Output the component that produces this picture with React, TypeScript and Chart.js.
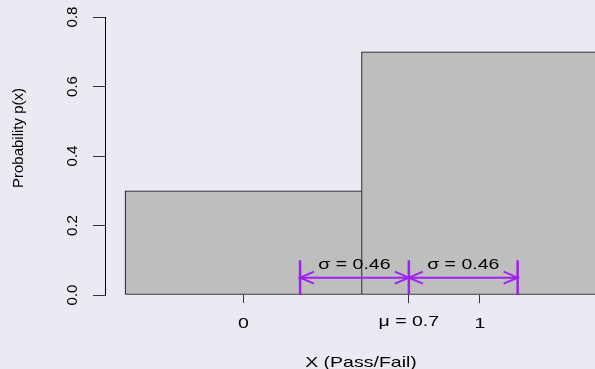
import React, { useEffect, useRef } from "react";
import { Chart, registerables } from "chart.js";

Chart.register(...registerables);

// ---- data ----
const outcomes = [0, 1];
const probabilities = [0.3, 0.7];
const muValue = 0.7;
const sigmaValue = 0.46;
const sigmaMarks = [0.24, 0.7, 1.16]; // mu - sigma, mu, mu + sigma
const markerTop = [0.1, 0.1, 0.1];
const arrowLevel = 0.05;
const labelLevel = 0.088;
const yTickValues = [0, 0.2, 0.4, 0.6, 0.8];
const yTickLabels = ["0.0", "0.2", "0.4", "0.6", "0.8"];
const xTickValues = [0, 0.7, 1];
const xTickLabels = ["0", "\u03bc = 0.7", "1"];
const sigmaLabels = ["\u03c3 = 0.46", "\u03c3 = 0.46"];
const xTitle = "X (Pass/Fail)";
const yTitle = "Probability p(x)";

const X_MIN = -0.5848;
const X_MAX = 1.4871;
const PURPLE = "#A020F0";
const BG = "#EAEAF2";
const FONT = '"Liberation Sans", Arial, Helvetica, sans-serif';

function hText(ctx: CanvasRenderingContext2D, text: string, x: number, y: number, sx: number, size: number) {
  ctx.save();
  ctx.translate(x, y);
  ctx.scale(sx, 1);
  ctx.font = `${size}px ${FONT}`;
  ctx.textAlign = "center";
  ctx.textBaseline = "alphabetic";
  ctx.fillStyle = "#000";
  ctx.fillText(text, 0, 0);
  ctx.restore();
}

function vText(ctx: CanvasRenderingContext2D, text: string, x: number, y: number, size: number) {
  ctx.save();
  ctx.translate(x, y);
  ctx.rotate(-Math.PI / 2);
  ctx.font = `${size}px ${FONT}`;
  ctx.textAlign = "center";
  ctx.textBaseline = "alphabetic";
  ctx.fillStyle = "#000";
  ctx.fillText(text, 0, 0);
  ctx.restore();
}

const bgPlugin = {
  id: "bg",
  beforeDraw(chart: any) {
    const ctx = chart.ctx;
    ctx.save();
    ctx.fillStyle = BG;
    ctx.fillRect(0, 0, chart.width, chart.height);
    ctx.restore();
  },
};

const annotPlugin = {
  id: "annot",
  afterDatasetsDraw(chart: any) {
    const ctx = chart.ctx;
    const xs = chart.scales.x;
    const ys = chart.scales.y;
    const yA = ys.getPixelForValue(arrowLevel);
    const headLen = 14;
    const headHalf = 6;
    ctx.save();
    ctx.strokeStyle = PURPLE;
    ctx.lineWidth = 2;
    for (let i = 0; i < sigmaMarks.length - 1; i++) {
      const a = xs.getPixelForValue(sigmaMarks[i]);
      const b = xs.getPixelForValue(sigmaMarks[i + 1]);
      ctx.beginPath();
      ctx.moveTo(a + headLen, yA - headHalf);
      ctx.lineTo(a, yA);
      ctx.lineTo(a + headLen, yA + headHalf);
      ctx.moveTo(b - headLen, yA - headHalf);
      ctx.lineTo(b, yA);
      ctx.lineTo(b - headLen, yA + headHalf);
      ctx.stroke();
    }
    ctx.restore();
  },
  afterDraw(chart: any) {
    const ctx = chart.ctx;
    const xs = chart.scales.x;
    const ys = chart.scales.y;
    const area = chart.chartArea;
    // y tick labels (rotated)
    yTickValues.forEach((v, i) => {
      vText(ctx, yTickLabels[i], area.left - 28, ys.getPixelForValue(v), 15);
    });
    // x tick labels
    xTickValues.forEach((v, i) => {
      const off = i === 1 ? 31 : 33;
      hText(ctx, xTickLabels[i], xs.getPixelForValue(v), area.bottom + off, 1.3, 15);
    });
    // sigma labels
    for (let i = 0; i < sigmaLabels.length; i++) {
      const cx = (sigmaMarks[i] + sigmaMarks[i + 1]) / 2;
      hText(ctx, sigmaLabels[i], xs.getPixelForValue(cx), ys.getPixelForValue(labelLevel) + 5, 1.3, 15);
    }
    // axis titles
    hText(ctx, xTitle, area.left + 256, area.bottom + 72, 1.3, 15);
    vText(ctx, yTitle, 22.5, 138, 15);
  },
};

export default function App() {
  const ref = useRef<HTMLCanvasElement | null>(null);
  useEffect(() => {
    document.body.style.margin = "0";
    document.body.style.background = BG;
    if (!ref.current) return;
    const lineSets: any[] = [];
    sigmaMarks.forEach((m, i) => {
      lineSets.push({
        type: "line",
        data: [
          { x: m, y: 0 },
          { x: m, y: markerTop[i] },
        ],
        borderColor: PURPLE,
        borderWidth: 2.5,
        pointRadius: 0,
        fill: false,
        order: 0,
        xAxisID: "x",
      });
    });
    for (let i = 0; i < sigmaMarks.length - 1; i++) {
      lineSets.push({
        type: "line",
        data: [
          { x: sigmaMarks[i], y: arrowLevel },
          { x: sigmaMarks[i + 1], y: arrowLevel },
        ],
        borderColor: PURPLE,
        borderWidth: 2,
        pointRadius: 0,
        fill: false,
        order: 0,
        xAxisID: "x",
      });
    }
    const chart = new Chart(ref.current, {
      type: "bar",
      data: {
        datasets: [
          ...lineSets,
          {
            type: "bar",
            data: outcomes.map((o, i) => ({ x: o, y: probabilities[i] })),
            backgroundColor: "#BEBEBE",
            borderColor: "#000",
            borderWidth: (c: any) =>
              c.dataIndex === 0 ? { top: 1, left: 1, bottom: 1, right: 0 } : 1,
            borderSkipped: false,
            barPercentage: 1,
            categoryPercentage: 1,
            grouped: false,
            order: 10,
            xAxisID: "xb",
          },
        ],
      },
      options: {
        animation: false,
        responsive: false,
        devicePixelRatio: 1,
        layout: { padding: { top: 17, left: 0, right: 0, bottom: 0 } },
        plugins: { legend: { display: false }, tooltip: { enabled: false } },
        scales: {
          x: {
            type: "linear",
            min: X_MIN,
            max: X_MAX,
            offset: false,
            afterBuildTicks: (s: any) => {
              s.ticks = xTickValues.map((v) => ({ value: v }));
            },
            afterFit: (s: any) => {
              s.height = 74;
            },
            ticks: { display: false },
            border: { display: false },
            grid: {
              display: true,
              offset: false,
              drawOnChartArea: false,
              drawTicks: true,
              tickLength: 8,
              color: "#333",
              lineWidth: 1,
            },
          },
          xb: {
            type: "linear",
            display: false,
            offset: false,
            grid: { offset: false },
            min: X_MIN,
            max: X_MAX,
            afterBuildTicks: (s: any) => {
              s.ticks = outcomes.map((v) => ({ value: v }));
            },
          },
          y: {
            type: "linear",
            min: 0,
            max: 0.8,
            afterBuildTicks: (s: any) => {
              s.ticks = yTickValues.map((v) => ({ value: v }));
            },
            afterFit: (s: any) => {
              s.width = 105;
            },
            ticks: { display: false },
            border: { display: true, color: "#000", width: 1 },
            grid: {
              display: true,
              drawOnChartArea: false,
              drawTicks: true,
              tickLength: 12,
              color: "#333",
              lineWidth: 1,
            },
          },
        },
      } as any,
      plugins: [bgPlugin, annotPlugin],
    } as any);
    return () => chart.destroy();
  }, []);
  return (
    <div style={{ position: "absolute", left: 0, top: 0, width: 595, height: 369 }}>
      <canvas ref={ref} width={595} height={369} style={{ display: "block" }} />
    </div>
  );
}
